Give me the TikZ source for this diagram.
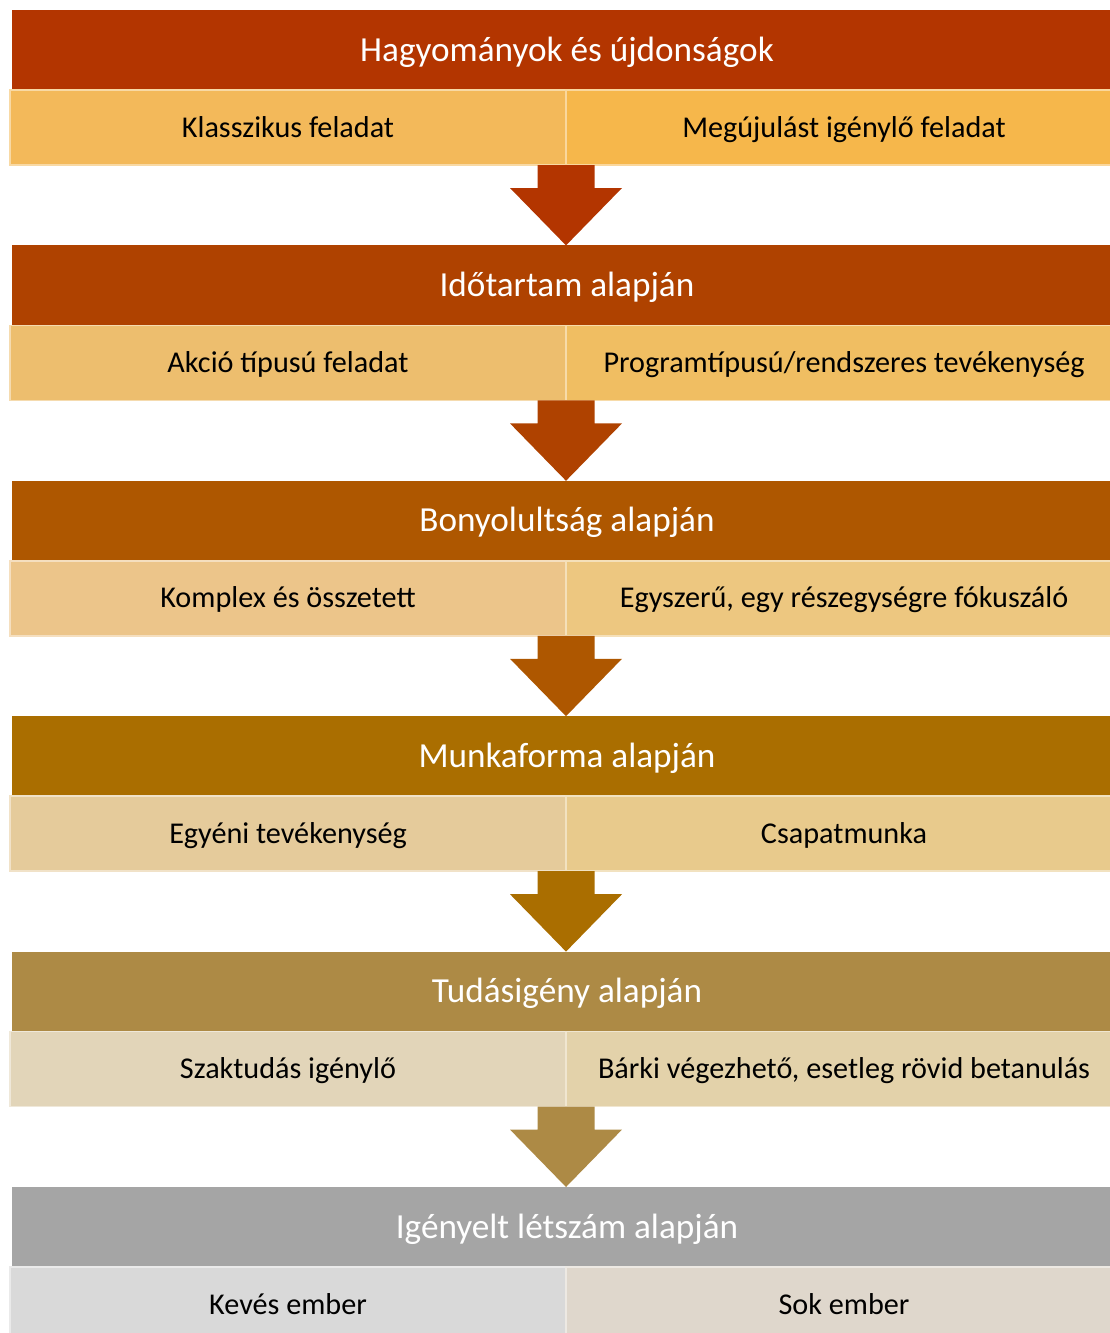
\documentclass[tikz,border=0pt]{standalone}
\usepackage{fontspec}
\setmainfont{Carlito}
\usetikzlibrary{calc}

%Colours of the bands (header, left cell, right cell)
\definecolor{hd1}{RGB}{179,53,0}
\definecolor{hd2}{RGB}{175,66,0}
\definecolor{hd3}{RGB}{174,87,0}
\definecolor{hd4}{RGB}{170,110,0}
\definecolor{hd5}{RGB}{173,138,69}
\definecolor{hd6}{RGB}{165,165,165}
\definecolor{lc1}{RGB}{243,185,90}
\definecolor{lc2}{RGB}{237,190,110}
\definecolor{lc3}{RGB}{236,197,138}
\definecolor{lc4}{RGB}{229,203,155}
\definecolor{lc5}{RGB}{226,213,185}
\definecolor{lc6}{RGB}{217,217,217}
\definecolor{rc1}{RGB}{246,183,75}
\definecolor{rc2}{RGB}{240,190,98}
\definecolor{rc3}{RGB}{237,199,128}
\definecolor{rc4}{RGB}{232,202,140}
\definecolor{rc5}{RGB}{227,210,170}
\definecolor{rc6}{RGB}{223,215,204}

\begin{document}
\begin{tikzpicture}[x=1pt,y=1pt,
     band/.style={rectangle,anchor=north west,inner sep=0pt,outer sep=0pt,
        minimum width=1110pt,minimum height=80pt,text=white,
        text height=26pt,text depth=4pt,font=\fontsize{35.2}{40}\selectfont},
     cell/.style={rectangle,anchor=north west,inner sep=0pt,outer sep=0pt,
        minimum width=556pt,minimum height=75pt,line width=1.5pt,
        text height=23pt,text depth=4pt,font=\fontsize{30.2}{35}\selectfont}
     ]
%Size of the page
\useasboundingbox (0,0) rectangle (1110,-1333);
\clip (0,0) rectangle (1110,-1333);

%Left edges, split line and distance of the rows
\def \xl{10}
\def \xh{12}
\def \xm{566}
\def \gap{235.4}

%Rows: title, left cell, right cell
\foreach [count=\i] \ttl/\lft/\rgt in {
   {Hagyományok és újdonságok}/{Klasszikus feladat}/{Megújulást igénylő feladat},
   {Időtartam alapján}/{Akció típusú feladat}/{Programtípusú/rendszeres tevékenység},
   {Bonyolultság alapján}/{Komplex és összetett}/{Egyszerű, egy részegységre fókuszáló},
   {Munkaforma alapján}/{Egyéni tevékenység}/{Csapatmunka},
   {Tudásigény alapján}/{Szaktudás igénylő}/{Bárki végezhető, esetleg rövid betanulás},
   {Igényelt létszám alapján}/{Kevés ember}/{Sok ember}}
   {
\pgfmathsetmacro{\ytop}{-(10+(\i-1)*\gap)}
\node[band,fill=hd\i] (h\i) at (\xh,\ytop) {\ttl};
\node[cell,fill=lc\i,draw=lc\i!55!white] (l\i) at (\xl,\ytop-80) {\lft};
\node[cell,fill=rc\i,draw=rc\i!55!white] (r\i) at (\xm,\ytop-80) {\rgt};
   }

%Arrows from each row down to the next title
\foreach \i in {1,...,5}
{
\pgfmathtruncatemacro{\j}{\i+1}
\coordinate (s\i) at (l\i.south east);
\fill[hd\i] ($(s\i)+(-28.5,0)$) -- ($(s\i)+(28.5,0)$) -- ($(s\i)+(28.5,-23)$)
   -- ($(s\i)+(56,-23)$) -- (h\j.north -| s\i) -- ($(s\i)+(-56,-23)$)
   -- ($(s\i)+(-28.5,-23)$) -- cycle;
}
\end{tikzpicture}
\end{document}
